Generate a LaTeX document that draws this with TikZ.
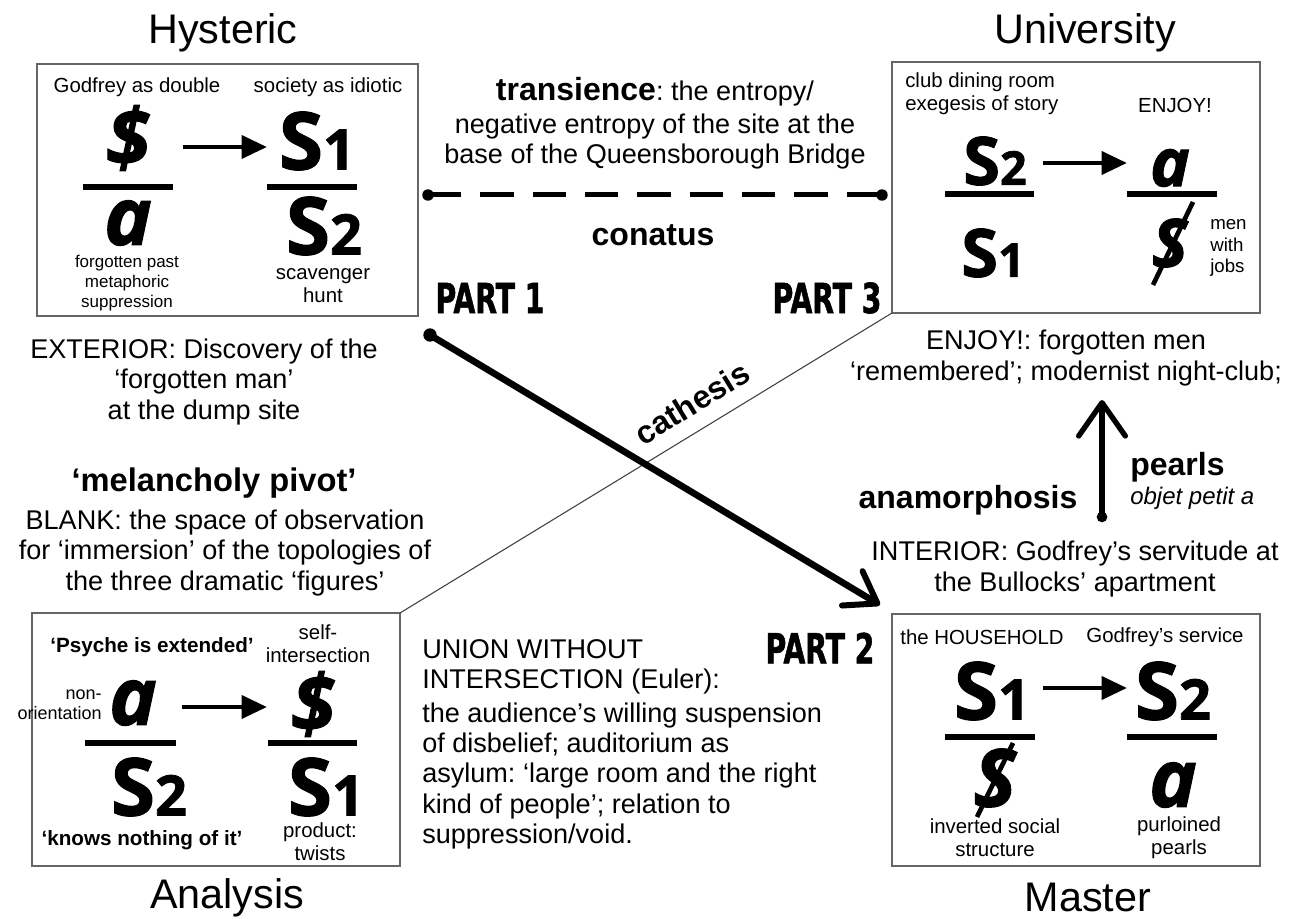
\documentclass[tikz,border=0pt]{standalone}
\usepackage{fontspec}
\usepackage{graphicx}
\setmainfont{Liberation Sans}
\newfontfamily\symfont[BoldFeatures={FakeBold=1.4},BoldItalicFeatures={FakeBold=1.4}]{Open Sans}
\newfontfamily\partfont[BoldFeatures={FakeBold=1.5}]{DejaVu Sans Condensed}
\usetikzlibrary{arrows.meta,calc}
\newcommand{\subd}[2]{{\fontsize{#1}{#1}\selectfont #2}}
\tikzset{
  boxst/.style={draw=black!60, line width=1pt, inner sep=0pt, outer sep=0pt, anchor=north west},
  title/.style={font=\fontsize{31}{34}\selectfont, inner sep=0pt},
  main/.style={font=\fontsize{20.3}{22.7}\selectfont, align=center, inner sep=0pt},
  boldlab/.style={font=\bfseries\fontsize{24}{27}\selectfont, inner sep=0pt},
  small/.style={font=\fontsize{15.3}{17.2}\selectfont, align=center, inner sep=0pt},
  smallb/.style={font=\bfseries\fontsize{15.5}{17.4}\selectfont, align=center, inner sep=0pt},
  sym/.style={font=\symfont\bfseries\fontsize{60}{60}\selectfont, inner sep=0pt},
  symi/.style={font=\symfont\bfseries\itshape\fontsize{60}{60}\selectfont, inner sep=0pt},
  symU/.style={font=\symfont\bfseries\fontsize{50}{50}\selectfont, inner sep=0pt},
  symUi/.style={font=\symfont\bfseries\itshape\fontsize{50}{50}\selectfont, inner sep=0pt},
  bar/.style={line width=4.5pt},
  slash/.style={line width=3.5pt},
  symarr/.style={line width=3.5pt, -{Triangle[length=19pt,width=17pt]}},
  partlab/.style={font=\partfont\bfseries\fontsize{31}{31}\selectfont, inner sep=0pt},
  handarr/.style={line width=5pt, line cap=round, -{Straight Barb[length=22pt,width=30pt,line width=4.5pt,round]}},
  handarrb/.style={line width=4.5pt, line cap=round, -{Straight Barb[length=25pt,width=35pt,line width=4pt,round]}},
  dashst/.style={line width=3.75pt, dash pattern=on 25pt off 14.25pt},
  thinline/.style={draw=black!75, line width=0.8pt},
}
\begin{document}
\frenchspacing
\begin{tikzpicture}[x=0.75pt,y=-0.75pt]
\useasboundingbox (0,0) rectangle (1304,919);

% titles
\node[title] (tH) at (223,33) {Hysteric};
\node[title] (tU) at (1085,33) {University};
\node[title] (tA) at (227,898) {Analysis};
\node[title] (tM) at (1088,897) {Master};

% boxes
\node[boxst, minimum width=285.75pt, minimum height=189pt] (hyst) at (37,64) {};
\node[boxst, minimum width=276pt, minimum height=188.25pt] (univ) at (892,62) {};
\node[boxst, minimum width=276pt, minimum height=189.75pt] (anal) at (32,613) {};
\node[boxst, minimum width=276pt, minimum height=189pt] (mast) at (892,614) {};

% thin diagonal
\draw[thinline] (anal.north east) -- (univ.south west);

% Hysteric
\node[small] (h1) at (137,87) {Godfrey as double};
\node[small] (h2) at (328,87) {society as idiotic};
\node[symi] (hd) at (128,138) {\$};
\node[symi] (ha) at (128,223) {a};
\node[sym] (hs1) at (317,141) {S\subd{42}{1}};
\node[sym] (hs2) at (324,226) {S\subd{42}{2}};
\draw[bar] (83,187) -- (173,187);
\draw[bar] (267,187) -- (357,187);
\coordinate (har1) at (183,147); \coordinate (har2) at (267,147);
\draw[symarr] (har1) -- (har2);
\node[small, font=\fontsize{12.75}{15}\selectfont] (h3) at (127,283) {forgotten past\\metaphoric\\suppression};
\node[small] (h4) at (323,286) {scavenger\\hunt};

% University
\node[small, align=left, anchor=west] (u1) at (905,94) {club dining room\\exegesis of story};
\node[small] (u2) at (1175,105) {ENJOY!};
\node[symU] (us2) at (995,161) {S\subd{35}{2}};
\node[symU] (us1) at (993,253) {S\subd{35}{1}};
\node[symUi] (ua) at (1170,168) {a};
\node[symUi] (uS) at (1170,243) {S};
\coordinate (usl1) at (1193,202); \coordinate (usl2) at (1153,285);
\draw[slash] (usl1) -- (usl2);
\draw[bar] (945,194) -- (1034,194);
\draw[bar] (1127,194) -- (1217,194);
\coordinate (uar1) at (1043,163); \coordinate (uar2) at (1127,163);
\draw[symarr] (uar1) -- (uar2);
\node[small, align=left, anchor=west, font=\fontsize{14}{16}\selectfont] (u3) at (1210,248) {men\\with\\jobs};

% Analysis
\node[smallb] (a1) at (152,647) {‘Psyche is extended’};
\node[small] (a2) at (318,644) {self-\\intersection};
\node[small, align=right, anchor=east, font=\fontsize{13.5}{15.3}\selectfont] (a3) at (102,705) {non-\\orientation};
\node[symi] (aa) at (133,703) {a};
\node[symi] (ad) at (313,704) {\$};
\node[sym] (as2) at (149,787) {S\subd{42}{2}};
\node[sym] (as1) at (326,787) {S\subd{42}{1}};
\draw[bar] (85,743) -- (176,743);
\draw[bar] (268,743) -- (357,743);
\coordinate (aar1) at (182,707); \coordinate (aar2) at (267,707);
\draw[symarr] (aar1) -- (aar2);
\node[smallb] (a4) at (142,840) {‘knows nothing of it’};
\node[small] (a5) at (320,842) {product:\\twists};

% Master
\node[small] (m1) at (982,637) {the HOUSEHOLD};
\node[small] (m2) at (1165,637) {Godfrey’s service};
\node[sym] (ms1) at (992,691) {S\subd{42}{1}};
\node[sym] (ms2) at (1173,691) {S\subd{42}{2}};
\draw[bar] (945,737) -- (1035,737);
\draw[bar] (1127,737) -- (1217,737);
\coordinate (mar1) at (1043,688); \coordinate (mar2) at (1127,688);
\draw[symarr] (mar1) -- (mar2);
\node[symi] (mS) at (995,778) {S};
\coordinate (msl1) at (1013,743); \coordinate (msl2) at (977,817);
\draw[slash] (msl1) -- (msl2);
\node[symi] (ma) at (1173,785) {a};
\node[small] (m3) at (995,838) {inverted social\\structure};
\node[small] (m4) at (1179,838) {purloined\\pearls};

% top middle
\node[main] (trans) at (655,123) {{\bfseries\fontsize{24}{26}\selectfont transience}: the entropy/\\[2pt]negative entropy of the site at the\\base of the Queensborough Bridge};
\coordinate (dl) at (428,195); \coordinate (dr) at (882,195);
\draw[dashst] (dl) -- (dr);
\fill (dl) circle[radius=4.3pt];
\fill (dr) circle[radius=4.3pt];
\node[boldlab] (con) at (653,235) {conatus};

% parts
\node[partlab] (p1) at (490,298) {\scalebox{0.76}[1]{PART 1}};
\node[partlab] (p3) at (827,298) {\scalebox{0.76}[1]{PART 3}};
\node[partlab] (p2) at (820,648) {\scalebox{0.76}[1]{PART 2}};

% left texts
\node[main] (ext) at (204,382) {EXTERIOR: Discovery of the\\‘forgotten man’\\at the dump site};
\node[boldlab, font=\bfseries\fontsize{24.5}{27}\selectfont] (mel) at (214,483) {‘melancholy pivot’};
\node[main] (blank) at (225,553) {BLANK: the space of observation\\for ‘immersion’ of the topologies of\\the three dramatic ‘figures’};

% right texts
\node[main] (enj) at (1066,358) {ENJOY!: forgotten men\\‘remembered’; modernist night-club;};
\node[main] (int) at (1075,569) {INTERIOR: Godfrey’s servitude at\\the Bullocks’ apartment};
\node[boldlab] (ana) at (968,500) {anamorphosis};
\node[boldlab, anchor=west] (pea) at (1130,467) {pearls};
\node[font=\itshape\fontsize{18}{20}\selectfont, anchor=west, inner sep=0pt] (obj) at (1130,498) {objet petit a};

% union
\node[main, align=left, anchor=west] (un1) at (422,667) {UNION WITHOUT\\INTERSECTION (Euler):};
\node[main, align=left, anchor=west] (un2) at (422,776) {the audience’s willing suspension\\of disbelief; auditorium as\\asylum: ‘large room and the right\\kind of people’; relation to\\suppression/void.};

% cathesis
\node[boldlab, rotate=31.4] (cat) at (692,403) {cathesis};
\coordinate (c0) at (430,335); \coordinate (c1) at (880,605);
\fill (c0) circle[radius=5pt];
\draw[handarr] (c0) -- (c1);

% anamorphosis arrow
\coordinate (an0) at (1102,517); \coordinate (an1) at (1102,400);
\fill (an0) circle[radius=4pt];
\draw[handarrb] (an0) -- (an1);
\end{tikzpicture}
\end{document}
